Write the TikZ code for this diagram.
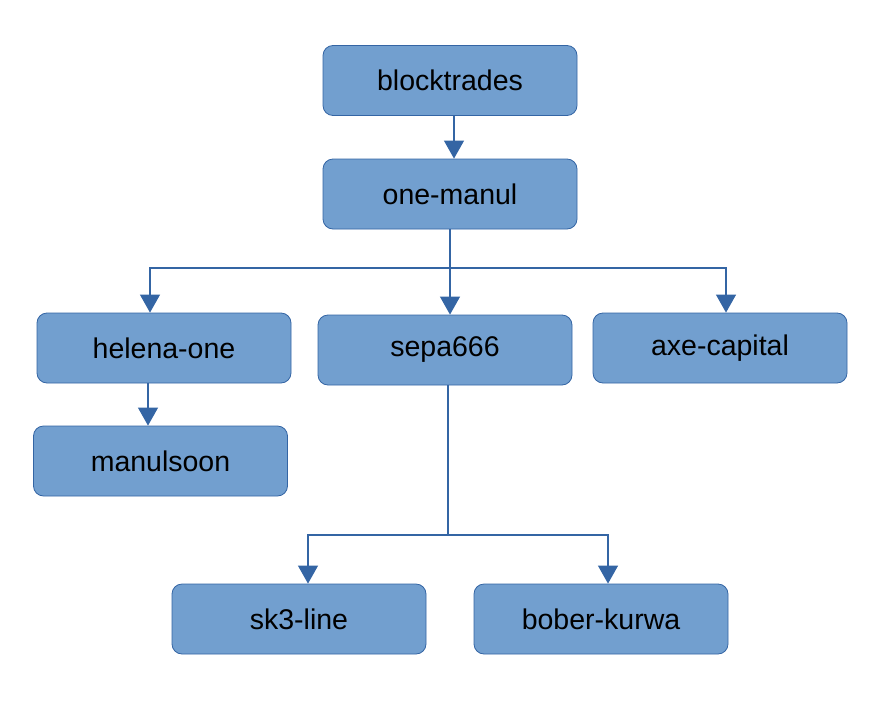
\documentclass[tikz,border=0pt]{standalone}
\usepackage{fontspec}
\setmainfont{Liberation Sans}
\usetikzlibrary{arrows.meta}
\definecolor{boxfill}{HTML}{729FCF}
\definecolor{boxline}{HTML}{3465A4}
\tikzset{
  box/.style={draw=boxline, fill=boxfill, line width=0.8pt, rounded corners=10pt,
    minimum width=254pt, minimum height=70pt, inner sep=0pt,
    font=\fontsize{28.5}{34}\selectfont, text=black},
  conn/.style={draw=boxline, line width=1.1pt},
  arr/.style={conn, -{Triangle[width=20pt,length=18pt]}}
}
\begin{document}
\begin{tikzpicture}[x=1pt,y=-1pt]
\useasboundingbox (0,0) rectangle (872,701);
\node[box] (bt) at (450,80.5) {blocktrades};
\node[box] (om) at (450,194) {one-manul};
\node[box] (he) at (164,348) {helena-one};
\node[box] (se) at (445,350) {sepa666};
\node[box] (ax) at (720,348) {axe-capital};
\node[box] (ms) at (160.5,461) {manulsoon};
\node[box] (sk) at (299,619) {sk3-line};
\node[box] (bo) at (601,619) {bober-kurwa};
\coordinate (j1) at (450,268);
\coordinate (j2) at (448,535);
\draw[arr] ([xshift=4pt]bt.south) -- ([xshift=4pt]om.north);
\draw[conn] (om.south) -- (j1);
\draw[arr] (j1) -| ([xshift=-14pt]he.north);
\draw[arr] (j1) -| ([xshift=6pt]ax.north);
\draw[arr] (j1) -- (se.north -| j1);
\draw[arr] ([xshift=-16pt]he.south) -- ([xshift=-16pt]he.south |- ms.north);
\draw[conn] ([xshift=3pt]se.south) -- (j2);
\draw[arr] (j2) -| ([xshift=9pt]sk.north);
\draw[arr] (j2) -| ([xshift=7pt]bo.north);
\end{tikzpicture}
\end{document}
